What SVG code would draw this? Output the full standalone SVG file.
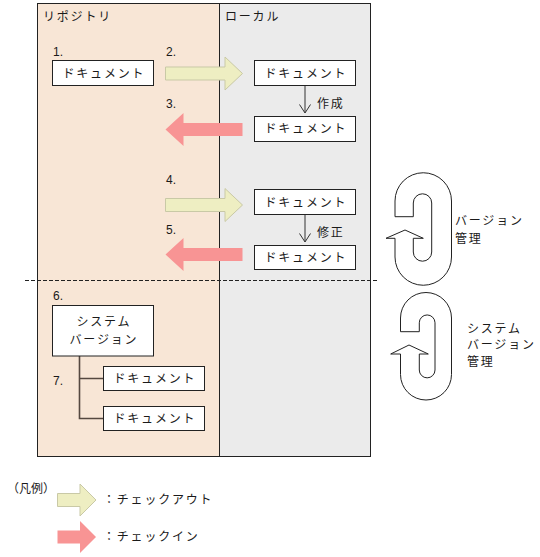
<svg xmlns="http://www.w3.org/2000/svg" width="540" height="557" viewBox="0 0 540 557">
<style>
text{font-family:"Liberation Sans","Noto Sans CJK JP",sans-serif;font-size:12px;fill:#1a1a1a}
.jp{letter-spacing:1.8px}
.c{text-anchor:middle}
.box{fill:#fff;stroke:#222;stroke-width:1}
.co{fill:#EEEEC2;stroke:#C9C9A6;stroke-width:1}
.ci{fill:#F89494;stroke:none}
.ln{fill:none;stroke:#333;stroke-width:1}
.tree{fill:none;stroke:#554840;stroke-width:1.6}
.loop{fill:#fff;stroke:#222;stroke-width:1}
</style>
<rect width="540" height="557" fill="#fff"/>
<g id="panel-repository">
<rect x="37.5" y="3.5" width="182" height="453" fill="#F8E6D6" stroke="#222"/>
<text x="43" y="21" class="jp">リポジトリ</text>
</g>
<g id="panel-local">
<rect x="219.5" y="3.5" width="151" height="453" fill="#EBEBEB" stroke="#222"/>
<text x="225" y="21" class="jp">ローカル</text>
</g>
<g id="steps">
<text x="53" y="56">1.</text>
<text x="166" y="56">2.</text>
<text x="166" y="108">3.</text>
<text x="166" y="184">4.</text>
<text x="166" y="234">5.</text>
<text x="53" y="300">6.</text>
<text x="53" y="385">7.</text>
</g>
<g id="connectors">
<path class="co" d="M165.5,67 H225 V57 L242.5,73.5 L225,90 V80 H165.5 Z"/>
<path class="ci" d="M242.5,123 H183.5 V113 L165.5,129.5 L183.5,146 V136 H242.5 Z"/>
<path class="co" d="M165.5,198.5 H225 V188.5 L242.5,205 L225,221.5 V211.5 H165.5 Z"/>
<path class="ci" d="M242.5,248 H183.5 V238 L165.5,254.5 L183.5,271 V261 H242.5 Z"/>
<path class="ln" d="M305,86 V112.5 M299.5,104.5 L305,113 L310.5,104.5"/>
<path class="ln" d="M305,214 V241.5 M299.5,233.5 L305,242 L310.5,233.5"/>
<path class="tree" d="M79.5,356 V418.5 H103.5 M79.5,378.5 H103.5"/>
<line x1="25" y1="280.5" x2="378" y2="280.5" stroke="#222" stroke-width="1" stroke-dasharray="4 2"/>
</g>
<text x="317" y="108" class="jp">作成</text>
<text x="317" y="237" class="jp">修正</text>
<g id="doc-1">
<rect class="box" x="52.5" y="60.5" width="101" height="25"/>
<text x="103.9" y="77.5" class="jp c">ドキュメント</text>
</g>
<g id="doc-local-1">
<rect class="box" x="254.5" y="60.5" width="101" height="25"/>
<text x="305.9" y="77.5" class="jp c">ドキュメント</text>
</g>
<g id="doc-local-2">
<rect class="box" x="254.5" y="116.5" width="101" height="25"/>
<text x="305.9" y="133" class="jp c">ドキュメント</text>
</g>
<g id="doc-local-3">
<rect class="box" x="254.5" y="189.5" width="101" height="25"/>
<text x="305.9" y="206.5" class="jp c">ドキュメント</text>
</g>
<g id="doc-local-4">
<rect class="box" x="254.5" y="245.5" width="101" height="24"/>
<text x="305.9" y="262" class="jp c">ドキュメント</text>
</g>
<g id="system-version">
<rect class="box" x="52.5" y="305.5" width="101" height="50.5"/>
<text x="103.9" y="326" class="jp c">システム</text>
<text x="103.9" y="344" class="jp c">バージョン</text>
</g>
<g id="doc-sys-1">
<rect class="box" x="103.5" y="366.5" width="101" height="24"/>
<text x="154.9" y="383" class="jp c">ドキュメント</text>
</g>
<g id="doc-sys-2">
<rect class="box" x="103.5" y="406.5" width="101" height="24"/>
<text x="154.9" y="423" class="jp c">ドキュメント</text>
</g>
<g id="version-loop">
<path class="loop" d="M395,216.7 V201 A28,28 0 0 1 451.5,201 V257 A28,28 0 0 1 395,257 V238.3 H386 L405,230 L423.3,238.3 H413.3 V252 A9.2,9.2 0 0 0 431.7,252 V203 A9.2,9.2 0 0 0 413.3,203 V216.7 Z"/>
<text x="455" y="225" class="jp">バージョン</text>
<text x="455" y="243" class="jp">管理</text>
</g>
<g id="system-version-loop">
<path class="loop" d="M400.5,331.7 V318 A25.5,25.5 0 0 1 451.5,318 V374.5 A25.5,25.5 0 0 1 400.5,374.5 V354 H390.7 L409,345 L428.3,354 H419.3 V370 A7.85,7.85 0 0 0 435,370 V322.8 A7.85,7.85 0 0 0 419.3,322.8 V331.7 Z"/>
<text x="467" y="333" class="jp">システム</text>
<text x="467" y="349" class="jp">バージョン</text>
<text x="467" y="366" class="jp">管理</text>
</g>
<g id="legend">
<text x="7" y="493">（凡例）</text>
<path class="co" d="M57.5,493.5 H80 V484 L96,500 L80,516 V506.5 H57.5 Z"/>
<text x="103" y="504" class="jp">：チェックアウト</text>
<path class="ci" d="M57.5,530.5 H80 V521 L96,537 L80,553 V543.5 H57.5 Z"/>
<text x="103" y="541" class="jp">：チェックイン</text>
</g>
</svg>
